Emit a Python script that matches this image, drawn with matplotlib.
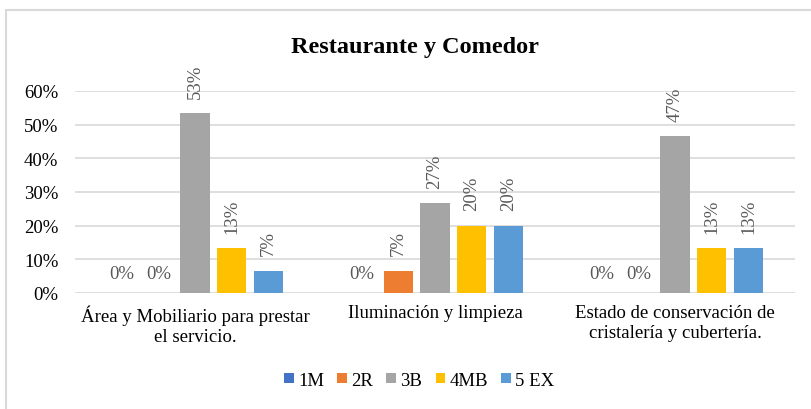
import numpy as np
import matplotlib.pyplot as plt
from matplotlib.patches import Rectangle
from matplotlib.ticker import PercentFormatter

plt.rcParams['font.family'] = ['Liberation Serif', 'DejaVu Serif']

categories = ['Área y Mobiliario para prestar\nel servicio.',
              'Iluminación y limpieza',
              'Estado de conservación de\ncristalería y cubertería.']
series = ['1M', '2R', '3B', '4MB', '5 EX']
v_1m = [0.0, 0.0, 0.0]
v_2r = [0.0, 6.67, 0.0]
v_3b = [53.33, 26.67, 46.67]
v_4mb = [13.33, 20.0, 13.33]
v_5ex = [6.67, 20.0, 13.33]
colors = ['#4472c4', '#ed7d31', '#a5a5a5', '#ffc000', '#5b9bd5']

values = [v_1m, v_2r, v_3b, v_4mb, v_5ex]
fs = 13.5

fig = plt.figure(figsize=(8.11, 4.10), dpi=100)
fig.patches.append(Rectangle((6 / 811, -0.1), 1.2, 1.1 - 11 / 410,
                             transform=fig.transFigure, fill=False,
                             edgecolor='#d9d9d9', linewidth=1.5))
ax = fig.add_axes([75 / 811, 1 - 294 / 410, 720 / 811, 202 / 410])

x = np.arange(len(categories))
stride = 0.153
width = 0.121
for i, (name, vals, c) in enumerate(zip(series, values, colors)):
    pos = x + (i - 2) * stride
    ax.bar(pos, vals, width=width, color=c, label=name, zorder=3)
    for p, v in zip(pos, vals):
        if v == 0:
            ax.annotate('0%', (p, v), xytext=(0, 8), textcoords='offset points',
                        ha='center', va='bottom', fontsize=fs, color='#595959')
        else:
            ax.annotate(f'{v:.0f}%', (p, v), xytext=(0, 11), textcoords='offset points',
                        ha='center', va='bottom', rotation=90, fontsize=fs,
                        color='#595959')

ax.set_xlim(-0.5, 2.5)
ax.set_ylim(0, 60)
ax.set_yticks(range(0, 61, 10))
ax.yaxis.set_major_formatter(PercentFormatter(decimals=0))
ax.grid(axis='y', color='#d9d9d9', linewidth=1.2, zorder=0)
for s in ax.spines.values():
    s.set_visible(False)
ax.tick_params(length=0, labelsize=fs, colors='#000000')
ax.tick_params(axis='y', pad=12)
ax.tick_params(axis='x', pad=8)
ax.set_xticks(x)
ax.set_xticklabels(categories, fontsize=fs, linespacing=1.25)

fig.text(0.512, 1 - 47 / 410, 'Restaurante y Comedor', ha='center', va='center',
         fontsize=17.5, fontweight='bold')
fig.legend(loc='center', bbox_to_anchor=(0.517, 1 - 381 / 410), ncol=5,
           frameon=False, fontsize=fs, handlelength=0.5, handleheight=0.5,
           handletextpad=0.25, columnspacing=0.7)

fig.savefig('out.png', dpi=100)
